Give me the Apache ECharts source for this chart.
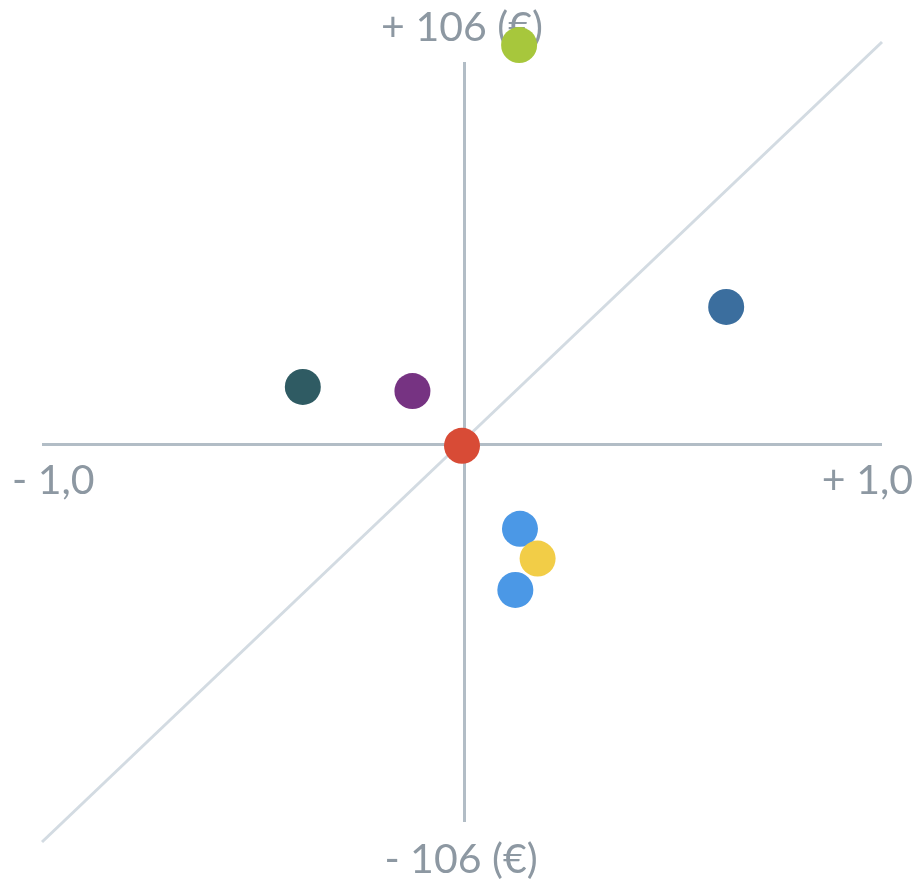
<!DOCTYPE html>
<html>
<head>
<meta charset="utf-8">
<script src="https://cdn.jsdelivr.net/npm/echarts@6/dist/echarts.min.js"></script>
<style>
html,body{margin:0;padding:0;background:#fff;}
#chart{width:922px;height:886px;}
</style>
</head>
<body>
<div id="chart"></div>
<script>
// Data
const pointX = [0.136, 0.629, -0.379, -0.118, 0.0, 0.138, 0.180, 0.127];
const pointY = [105.2, 35.8, 14.6, 13.5, -1.0, -23.0, -30.9, -39.2];
const palette = ['#a7c73c', '#3b6e9e', '#2f5b63', '#763382', '#d84b36', '#4b98e6', '#f2cd47', '#4b98e6'];
const xRange = [-1, 1];
const yRange = [-106, 106];
const labelTop = '+ 106 (€)';
const labelBottom = '- 106 (€)';
const labelLeft = '- 1,0';
const labelRight = '+ 1,0';

const chart = echarts.init(document.getElementById('chart'), null, {renderer: 'canvas'});
const textColor = '#8d98a2';
const font = 'Lato, "Open Sans", sans-serif';
const textStyle = (s) => ({text: s, fill: textColor, font: '400 41px ' + font});

const scatterData = pointX.map((x, i) => ({
  value: [x, pointY[i]],
  itemStyle: {color: palette[i], opacity: 1}
}));

const axisColor = '#b2bdc6';

chart.setOption({
  animation: false,
  grid: {left: 42, right: 40, top: 42, bottom: 44},
  xAxis: {
    type: 'value', min: xRange[0], max: xRange[1],
    axisLine: {show: false}, axisTick: {show: false}, axisLabel: {show: false}, splitLine: {show: false}
  },
  yAxis: {
    type: 'value', min: yRange[0], max: yRange[1],
    axisLine: {show: false}, axisTick: {show: false}, axisLabel: {show: false}, splitLine: {show: false}
  },
  graphic: [
    {type: 'text', x: 462, y: 28, z: 0, style: Object.assign(textStyle(labelTop), {textAlign: 'center', textVerticalAlign: 'middle'})},
    {type: 'text', x: 461, y: 860, z: 0, style: Object.assign(textStyle(labelBottom), {textAlign: 'center', textVerticalAlign: 'middle'})},
    {type: 'text', x: 12, y: 481, z: 0, style: Object.assign(textStyle(labelLeft), {textAlign: 'left', textVerticalAlign: 'middle'})},
    {type: 'text', x: 913, y: 481, z: 0, style: Object.assign(textStyle(labelRight), {textAlign: 'right', textVerticalAlign: 'middle'})}
  ],
  series: [
    {
      type: 'line', z: 2, silent: true, symbol: 'none',
      data: [[xRange[0], yRange[0]], [xRange[1], yRange[1]]],
      lineStyle: {color: '#d3dbe2', width: 3},
      markLine: {
        silent: true, symbol: 'none', label: {show: false},
        lineStyle: {color: axisColor, width: 3, type: 'solid'},
        data: [
          [{coord: [0.005, -100.7]}, {coord: [0.005, 100.7]}],
          [{coord: [xRange[0], -0.5]}, {coord: [xRange[1], -0.5]}]
        ]
      }
    },
    {
      type: 'scatter', z: 10, symbolSize: 36,
      itemStyle: {opacity: 1},
      data: scatterData
    }
  ]
});
</script>
</body>
</html>
